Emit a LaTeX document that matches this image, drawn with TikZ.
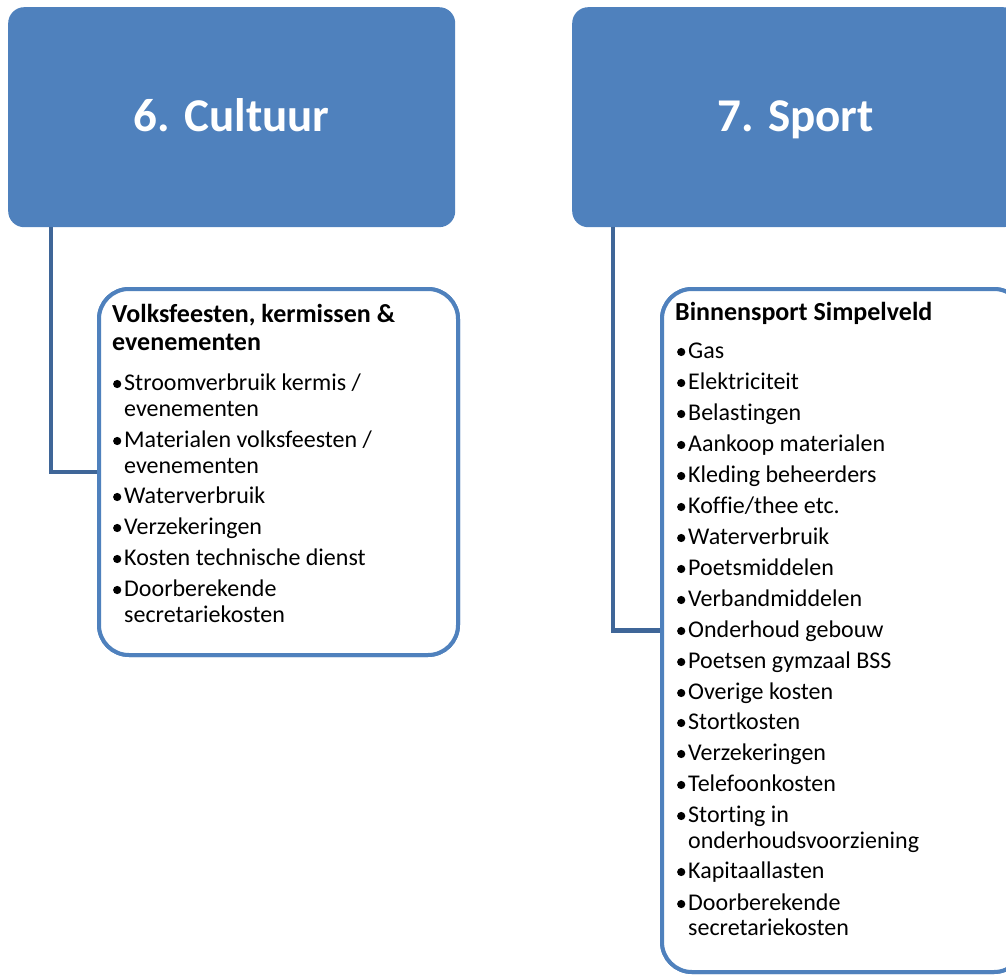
\documentclass[tikz,border=0pt]{standalone}
\usepackage{fontspec}
\setmainfont{Carlito}[Ligatures={NoCommon}]
\definecolor{accent}{HTML}{4F81BD}
\definecolor{linkblue}{HTML}{3F6698}
% one bulleted line of a list: text node plus a round bullet in front of it
\newcommand\bulline[3]{%
  \node[itemtext] (#1) at (#2) {\hspace*{11pt}#3};
  \fill ([xshift=4.2pt,yshift=6pt]#1.base west) circle (4.1pt);}
% a wrapped continuation line
\newcommand\contline[3]{\node[itemtext] (#1) at (#2) {#3};}
\begin{document}
\begin{tikzpicture}[x=1pt,y=-1pt,
  headbox/.style={fill=accent, rounded corners=16pt, minimum width=447pt, minimum height=220pt,
    inner sep=0pt, anchor=north west, text=white, text height=28pt, text depth=0pt,
    font=\fontsize{47}{56}\selectfont\bfseries},
  childbox/.style={draw=accent, line width=4pt, fill=white, rounded corners=30pt, inner sep=0pt,
    anchor=north west},
  link/.style={draw=linkblue, line width=4.5pt},
  boxtitle/.style={anchor=base west, inner sep=0pt, font=\fontsize{26}{28}\selectfont\bfseries},
  itemtext/.style={anchor=base west, inner sep=0pt, font=\fontsize{24}{26}\selectfont}]
\useasboundingbox (0,0) rectangle (1006,974);
\clip (0,0) rectangle (1006,974);

% category headers
\node[headbox] (cult) at (8,7) {6. Cultuur};
\node[headbox] (sport) at (572,7) {7. Sport};

% child boxes
\node[childbox, minimum width=359pt, minimum height=366pt] (volks) at (97,287) {};
\node[childbox, minimum width=362pt, minimum height=683pt] (bss) at (660,287) {};

% connectors, then the box outlines again on top of their ends
\draw[link] ([xshift=43pt]cult.south west) |- (volks.west);
\draw[link] ([xshift=41pt]sport.south west) |- (bss.west);
\node[childbox, minimum width=359pt, minimum height=366pt] at (97,287) {};
\node[childbox, minimum width=362pt, minimum height=683pt] at (660,287) {};

% Cultuur list
\node[boxtitle] (vt1) at (112,322) {Volksfeesten, kermissen \&};
\node[boxtitle] (vt2) at (112,350) {evenementen};
\bulline{v1}{113,390}{Stroomverbruik kermis /}
\contline{v1b}{124,416}{evenementen}
\bulline{v2}{113,447}{Materialen volksfeesten /}
\contline{v2b}{124,473}{evenementen}
\bulline{v3}{113,503}{Waterverbruik}
\bulline{v4}{113,534}{Verzekeringen}
\bulline{v5}{113,565}{Kosten technische dienst}
\bulline{v6}{113,596}{Doorberekende}
\contline{v6b}{124,622}{secretariekosten}

% Sport list
\node[boxtitle] (bt) at (675,320) {Binnensport Simpelveld};
\bulline{s1}{677,358}{Gas}
\bulline{s2}{677,389}{Elektriciteit}
\bulline{s3}{677,420}{Belastingen}
\bulline{s4}{677,451}{Aankoop materialen}
\bulline{s5}{677,482}{Kleding beheerders}
\bulline{s6}{677,513}{Koffie/thee etc.}
\bulline{s7}{677,544}{Waterverbruik}
\bulline{s8}{677,575}{Poetsmiddelen}
\bulline{s9}{677,606}{Verbandmiddelen}
\bulline{s10}{677,637}{Onderhoud gebouw}
\bulline{s11}{677,668}{Poetsen gymzaal BSS}
\bulline{s12}{677,699}{Overige kosten}
\bulline{s13}{677,729}{Stortkosten}
\bulline{s14}{677,760}{Verzekeringen}
\bulline{s15}{677,791}{Telefoonkosten}
\bulline{s16}{677,822}{Storting in}
\contline{s16b}{688,848}{onderhoudsvoorziening}
\bulline{s17}{677,878}{Kapitaallasten}
\bulline{s18}{677,910}{Doorberekende}
\contline{s18b}{688,935}{secretariekosten}
\end{tikzpicture}
\end{document}
